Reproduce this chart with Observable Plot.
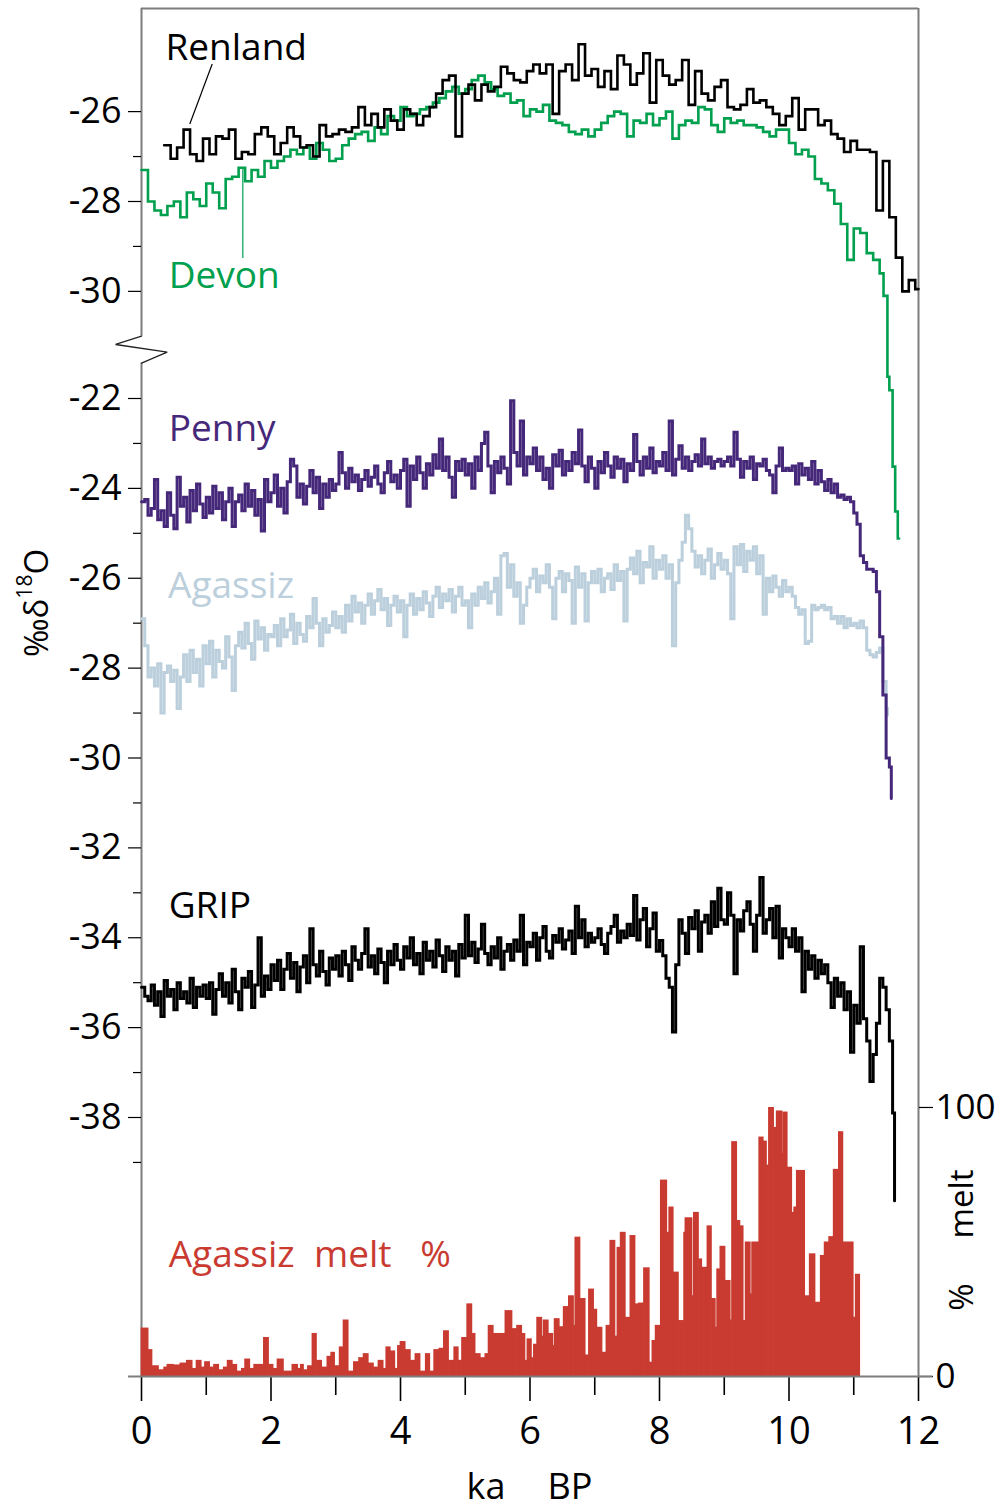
<!DOCTYPE html>
<html><head><meta charset="utf-8">
<script src="https://cdn.jsdelivr.net/npm/d3@7"></script>
<script src="https://cdn.jsdelivr.net/npm/@observablehq/plot@0.6"></script>
<style>
body{margin:0;background:#fff;}
#chart svg{display:block;}
</style></head><body><div id="chart"></div>
<script>
// ---------------- DATA (ka BP, per mil δ18O, melt %) ----------------
const renlandStart = 0.35, renlandStep = 0.1, renlandEnd = 12.0;
const renland = [
 -26.75,-27.05,-26.8,-26.4,-26.95,-27.1,-26.6,-26.95,-26.55,-26.6,-26.4,-27.05,-26.9,-26.95,-26.5,-26.35,-26.55,-26.95,-26.7,-26.35,
 -26.55,-26.8,-26.75,-27.0,-26.3,-26.55,-26.5,-26.4,-26.45,-26.35,-25.9,-26.3,-26.05,-26.35,-25.95,-26.2,-26.4,-25.95,-26.05,-26.3,
 -26.1,-25.9,-25.6,-25.3,-25.2,-26.55,-25.6,-25.4,-25.75,-25.4,-25.55,-25.45,-25.0,-25.15,-25.3,-25.35,-25.1,-24.95,-25.15,-24.95,
 -26.05,-25.1,-24.95,-25.3,-24.5,-25.2,-25.05,-25.45,-25.1,-25.5,-24.75,-24.95,-25.4,-25.15,-24.7,-25.8,-24.85,-25.2,-25.4,-25.3,
 -24.85,-25.85,-25.1,-25.6,-25.75,-25.45,-25.3,-25.9,-25.95,-25.85,-25.5,-25.8,-25.75,-25.9,-26.05,-26.3,-26.1,-25.7,-26.4,-25.95,
 -25.95,-26.3,-26.2,-26.5,-26.6,-26.9,-26.65,-26.85,-26.85,-26.9,-28.2,-27.1,-28.35,-29.25,-30.0,-29.75,-29.95
];
const devonStart = 0.0, devonStep = 0.1;
const devon = [
 -27.3,-28.0,-28.2,-28.3,-28.1,-28.0,-28.35,-27.8,-27.95,-28.1,-27.6,-27.8,-28.15,-27.5,-27.45,-27.25,-27.55,-27.3,-27.45,-27.1,
 -27.25,-27.1,-27.0,-26.85,-26.95,-26.8,-27.05,-26.7,-26.85,-27.1,-27.05,-26.75,-26.6,-26.5,-26.45,-26.65,-26.35,-26.5,-26.1,-26.2,
 -25.9,-26.1,-26.05,-25.95,-25.9,-25.8,-25.7,-25.55,-25.45,-25.6,-25.5,-25.3,-25.2,-25.35,-25.5,-25.65,-25.6,-25.8,-25.75,-26.1,
 -25.95,-26.0,-25.85,-26.2,-26.25,-26.3,-26.45,-26.5,-26.4,-26.55,-26.4,-26.25,-26.1,-26.0,-26.05,-26.55,-26.2,-26.25,-26.05,-26.3,
 -26.15,-26.0,-26.6,-26.3,-26.2,-26.25,-25.9,-25.95,-26.3,-26.45,-26.15,-26.25,-26.2,-26.3,-26.3,-26.35,-26.45,-26.55,-26.4,-26.4,
 -26.7,-26.95,-26.85,-27.0,-27.5,-27.6,-27.75,-28.05,-28.5,-29.3,-28.6,-28.7,-29.15,-29.3,-29.6
];
const devonTailT = [11.46, 11.52, 11.55, 11.60, 11.64, 11.68, 11.70];
const devonTailV = [-30.1, -31.9, -32.2, -33.9, -34.9, -35.5, -35.5];

const pennyStart = 0.0, pennyStep = 0.05;
const penny = [
 -24.3,-24.25,-24.6,-24.45,-23.8,-24.7,-24.5,-24.85,-24.1,-24.6,-24.9,-23.75,-24.4,-24.2,-24.75,-24.05,-24.5,-23.9,-24.35,-24.65,
 -24.2,-24.55,-23.95,-24.45,-24.1,-24.7,-24.3,-24.0,-24.85,-24.3,-24.15,-24.5,-23.9,-24.4,-24.05,-24.6,-24.25,-24.95,-23.8,-24.3,
 -24.1,-23.7,-24.4,-24.0,-24.55,-23.85,-23.35,-23.5,-24.2,-23.9,-24.35,-23.95,-23.6,-24.1,-23.75,-24.45,-23.9,-24.2,-23.8,-24.05,
 -23.9,-23.2,-23.65,-24.0,-23.55,-23.85,-23.7,-24.05,-23.8,-23.6,-23.95,-23.75,-23.5,-23.9,-24.1,-23.65,-23.4,-23.85,-23.7,-24.0,
 -23.6,-23.35,-24.4,-23.5,-23.8,-23.3,-23.65,-24.0,-23.45,-23.7,-23.25,-23.55,-22.9,-23.6,-23.3,-23.75,-24.2,-23.4,-23.6,-23.35,
 -23.7,-23.45,-24.0,-23.3,-23.6,-23.0,-22.75,-23.5,-24.1,-23.4,-23.65,-23.3,-23.55,-23.9,-22.05,-23.2,-23.5,-22.5,-23.7,-23.3,
 -23.45,-23.1,-23.6,-23.3,-23.8,-23.55,-24.0,-23.25,-23.5,-23.15,-23.7,-23.4,-23.6,-23.2,-23.45,-22.7,-23.5,-23.85,-23.3,-23.55,
 -24.0,-23.4,-23.65,-23.2,-23.5,-23.75,-23.3,-23.55,-23.35,-23.85,-23.45,-23.6,-22.8,-23.4,-23.7,-23.3,-23.55,-23.1,-23.65,-23.4,
 -23.5,-23.2,-23.6,-22.5,-23.7,-23.35,-23.05,-23.55,-23.3,-23.6,-23.4,-23.25,-23.5,-22.9,-23.45,-23.3,-23.55,-23.4,-23.35,-23.5,
 -23.4,-23.3,-23.5,-22.75,-23.35,-23.75,-23.4,-23.55,-23.3,-23.8,-23.45,-23.5,-23.35,-23.6,-23.7,-24.1,-23.5,-23.1,-23.6,-23.55,
 -23.6,-23.5,-23.9,-23.45,-23.7,-23.55,-23.8,-23.4,-23.9,-23.6,-23.85,-24.05,-23.8,-24.1,-23.9,-24.2,-24.15,-24.25,-24.2,-24.3,
 -24.55,-24.8,-25.5,-25.65,-25.8,-25.8,-25.85,-26.3,-27.3,-28.6,-30.0,-30.2
];
const pennyEnd = [11.58, -30.9];

const agassizStart = 0.0, agassizStep = 0.05;
const agassiz = [
 -26.9,-27.5,-28.2,-28.0,-28.4,-27.9,-29.0,-28.1,-27.95,-28.3,-28.05,-28.9,-28.2,-27.7,-28.3,-27.6,-28.1,-27.8,-28.4,-27.5,
 -27.9,-27.4,-28.2,-27.6,-27.85,-28.0,-27.3,-27.75,-28.5,-27.5,-27.2,-27.55,-27.0,-27.45,-27.8,-26.95,-27.35,-27.1,-27.6,-27.25,
 -27.3,-27.05,-27.5,-26.9,-27.3,-27.15,-26.8,-27.45,-27.0,-27.25,-27.4,-26.85,-27.1,-26.45,-27.0,-27.5,-26.9,-27.2,-27.05,-26.75,
 -27.1,-26.85,-27.2,-26.6,-26.95,-26.4,-26.75,-26.55,-27.0,-26.6,-26.35,-26.8,-26.5,-26.25,-26.7,-26.45,-27.05,-26.6,-26.4,-26.75,
 -26.5,-27.3,-26.6,-26.35,-26.8,-26.45,-26.7,-26.3,-26.55,-26.85,-26.4,-26.2,-26.65,-26.35,-26.5,-26.25,-26.75,-26.4,-26.2,-26.6,
 -26.5,-27.1,-26.35,-26.6,-26.2,-26.45,-26.1,-26.55,-26.3,-26.0,-26.8,-25.5,-25.45,-26.2,-25.7,-26.4,-26.1,-27.0,-26.6,-26.2,
 -26.0,-25.8,-26.3,-25.95,-26.1,-25.7,-26.2,-26.9,-26.0,-25.85,-26.3,-25.9,-26.05,-27.0,-25.75,-26.2,-25.9,-26.95,-26.1,-25.85,
 -26.1,-25.8,-26.3,-26.0,-25.9,-26.25,-25.7,-26.05,-25.85,-26.95,-25.8,-25.55,-25.9,-25.4,-26.1,-25.65,-25.75,-25.3,-26.0,-25.6,
 -25.8,-25.5,-26.0,-25.7,-27.5,-26.1,-25.6,-25.2,-24.6,-24.9,-25.4,-25.75,-25.5,-25.9,-25.6,-25.35,-26.0,-25.7,-25.45,-25.8,
 -25.6,-25.9,-26.9,-25.3,-25.7,-25.25,-25.85,-25.4,-25.6,-25.3,-25.9,-25.5,-26.8,-26.0,-26.3,-25.95,-26.2,-26.4,-26.05,-26.3,
 -26.2,-26.4,-26.65,-26.8,-26.7,-27.45,-27.4,-26.6,-26.7,-26.65,-26.6,-26.7,-26.65,-26.9,-26.85,-27.0,-26.85,-27.1,-26.9,-27.05,
 -27.0,-27.1,-26.95,-27.1,-27.6,-27.7,-27.75,-27.65,-27.55,-28.3,-28.9
];
const agassizEnd = [11.52, -29.05];

const gripStart = 0.0, gripStep = 0.05;
const grip = [
 -35.1,-35.3,-35.4,-35.05,-35.5,-35.2,-35.75,-34.95,-35.3,-35.15,-35.6,-35.0,-35.35,-35.2,-35.45,-34.9,-35.55,-35.1,-35.3,-35.05,
 -35.35,-35.0,-35.7,-35.15,-34.8,-35.3,-35.0,-35.45,-34.7,-35.2,-35.6,-34.9,-35.1,-34.75,-35.55,-35.05,-34.0,-35.3,-34.85,-35.15,
 -34.6,-34.95,-34.5,-35.15,-34.7,-34.35,-34.9,-34.55,-35.2,-34.65,-34.4,-35.0,-33.8,-34.6,-34.85,-34.3,-34.75,-35.05,-34.45,-34.7,
 -34.4,-34.85,-34.3,-34.6,-34.95,-34.2,-34.5,-34.7,-34.35,-33.8,-34.65,-34.4,-34.8,-34.25,-34.55,-35.0,-34.3,-34.6,-34.15,-34.5,
 -34.7,-34.2,-34.45,-34.0,-34.6,-34.35,-34.8,-34.1,-34.5,-34.3,-34.65,-34.05,-34.4,-34.75,-34.2,-34.5,-34.3,-34.85,-34.15,-34.45,
 -33.5,-34.4,-34.1,-34.55,-34.25,-33.7,-34.35,-34.6,-34.2,-34.45,-34.0,-34.7,-34.3,-34.15,-34.5,-34.05,-34.3,-33.5,-34.6,-34.1,
 -34.2,-33.9,-34.5,-34.0,-33.75,-34.3,-34.45,-33.95,-34.1,-33.8,-34.25,-34.05,-33.85,-34.35,-33.3,-34.0,-33.6,-34.2,-33.9,-34.1,
 -34.0,-33.8,-34.15,-34.35,-33.9,-33.75,-33.5,-34.1,-33.85,-34.0,-33.7,-33.95,-33.06,-34.05,-33.6,-33.35,-34.2,-33.8,-33.45,-34.3,
 -34.06,-34.4,-34.9,-35.1,-36.1,-34.6,-33.6,-33.9,-34.35,-33.55,-33.8,-33.4,-34.3,-33.65,-33.5,-33.9,-33.2,-33.75,-32.9,-33.6,
 -33.7,-33.0,-33.5,-34.8,-33.6,-33.85,-33.4,-33.2,-33.7,-34.3,-33.5,-32.66,-33.9,-33.6,-33.35,-34.0,-33.3,-34.45,-33.8,-34.0,
 -34.2,-33.8,-34.3,-34.0,-35.2,-34.3,-34.7,-34.4,-34.9,-34.5,-34.8,-34.6,-35.0,-35.55,-34.9,-35.3,-35.0,-35.6,-35.2,-36.55,
 -35.5,-35.9,-34.2,-35.8,-36.3,-37.2,-36.6,-35.9,-34.9,-35.1,-35.6,-36.3,-37.9
];
const gripEnd = [11.63, -39.85];

const meltT = [
 0.00,0.11,0.17,0.27,0.35,0.40,0.50,0.60,0.70,0.79,0.85,0.93,0.98,1.06,1.12,1.20,1.27,1.33,1.41,1.48,
 1.55,1.60,1.68,1.74,1.89,1.97,2.04,2.10,2.20,2.33,2.42,2.46,2.51,2.57,2.64,2.71,2.79,2.87,2.93,2.99,
 3.06,3.12,3.20,3.28,3.36,3.43,3.51,3.59,3.66,3.74,3.78,3.85,3.92,3.96,4.00,4.08,4.16,4.23,4.31,4.39,
 4.46,4.52,4.60,4.67,4.75,4.83,4.90,4.95,5.03,5.11,5.16,5.24,5.31,5.36,5.44,5.54,5.62,5.73,5.80,5.88,
 5.93,5.96,6.03,6.06,6.11,6.19,6.21,6.29,6.36,6.38,6.46,6.52,6.60,6.68,6.70,6.78,6.86,6.91,6.99,7.04,
 7.12,7.18,7.24,7.32,7.35,7.40,7.48,7.55,7.63,7.68,7.76,7.85,7.89,7.94,8.02,8.12,8.15,8.22,8.30,8.38,
 8.40,8.51,8.53,8.61,8.66,8.74,8.81,8.87,8.89,8.94,9.02,9.10,9.12,9.20,9.25,9.30,9.33,9.41,9.43,9.54,
 9.61,9.66,9.69,9.77,9.81,9.90,9.91,9.98,10.05,10.08,10.12,10.25,10.32,10.41,10.49,10.55,10.62,10.69,10.77,10.84,
 11.00,11.03
];
const meltV = [
 18,10,4,2.5,3.5,4.5,4.3,5,6,3,6,3.5,5.5,3.5,4.5,2.5,3.5,6,4.5,2,
 3,6.5,3,4.5,14.5,4.5,3,6.5,2,4.5,3,4.5,2.5,4,16,6,3.5,7.5,9,4,
 11,21,2,5.5,7,8.5,5,3.5,6,3,11,9.5,3,11.5,13,10,6,8.5,2,8.5,
 2,10,10.5,17,6,11,6,14.5,27,16,8.5,7,8.5,19,16,16,24.5,17.8,19,16,
 6,14,7,12,22,15,21,16,11.5,21.5,18.5,26,30,19,51.8,29,8,32.5,25,18.3,
 9,19,50.6,15,48,53.6,22,52.4,27,27.3,40.4,5.3,13.4,19,73,53.6,63,38.8,20.8,53.6,
 59,30,61,43.7,40.6,56,29,18.3,40,48.4,35.7,21,87.3,58,56,20.8,50,30.7,50,89,
 87.5,78.6,100,92.6,98.7,83,98.3,77.8,61,63,76.6,30,45.6,27.6,45,50,52,77,91,50,
 22,38
];
const meltEnd = 11.10;

// tick values
const xMajor = [0, 2, 4, 6, 8, 10, 12];
const xMinor = [1, 3, 5, 7, 9, 11];
const upperMajor = [-26, -28, -30];
const upperMinor = [-27, -29];
const lowerMajor = [-22, -24, -26, -28, -30, -32, -34, -36, -38];
const lowerMinor = [-23, -25, -27, -29, -31, -33, -35, -37, -39];
const meltTicks = [0, 100];

// ---------------- layout of the stacked y coordinate ----------------
const UPPER_OFFSET = 10.384;           // upper panel (Renland, Devon) shifted onto common axis
const MELT_BASE = -43.7636, MELT_SCALE = 0.059866;
const Y_DOMAIN = [-43.7636, -13.3213];
const BREAK_TOP = -20.614, BREAK_BOTTOM = -21.214;
const upperU = v => v + UPPER_OFFSET;
const meltU = m => MELT_BASE + m * MELT_SCALE;

const GREEN = "#00a04e", PURPLE = "#46287a", LIGHT = "#bccfdc", RED = "#c93b31", GREY = "#7d7d7d";

function grid(start, step, vals, endT, endV) {
  const out = vals.map((v, i) => ({t: +(start + i * step).toFixed(3), v}));
  if (endT != null) out.push({t: endT, v: endV});
  return out;
}
const renlandData = grid(renlandStart, renlandStep, renland, renlandEnd, renland[renland.length - 1]);
const devonData = grid(devonStart, devonStep, devon).concat(devonTailT.map((t, i) => ({t, v: devonTailV[i]})));
const pennyData = grid(pennyStart, pennyStep, penny, pennyEnd[0], pennyEnd[1]);
const agassizData = grid(agassizStart, agassizStep, agassiz, agassizEnd[0], agassizEnd[1]);
const gripData = grid(gripStart, gripStep, grip, gripEnd[0], gripEnd[1]);
const meltData = meltT.map((t, i) => ({t0: t, t1: i + 1 < meltT.length ? meltT[i + 1] : meltEnd, m: meltV[i]}));

const breakPts = [
  {t: 0, u: BREAK_TOP}, {t: -0.40, u: -20.798}, {t: 0.397, u: -20.970}, {t: 0, u: BREAK_BOTTOM}
];
const labels = [
  {t: 0.37, u: upperU(-24.843), text: "Renland", color: "#000"},
  {t: 0.42, u: upperU(-29.917), text: "Devon", color: GREEN},
  {t: 0.42, u: -22.935, text: "Penny", color: PURPLE},
  {t: 0.41, u: -26.45, text: "Agassiz", color: LIGHT},
  {t: 0.42, u: -33.56, text: "GRIP", color: "#000"},
  {t: 0.42, u: meltU(40.8), text: "Agassiz\u00A0\u00A0melt\u00A0\u00A0\u00A0%", color: RED}
];

const stepLine = (data, yf, stroke, w) => Plot.line(data, {x: "t", y: yf, curve: "step-after", stroke, strokeWidth: w, strokeLinejoin: "miter", strokeMiterlimit: 2});

const chart = Plot.plot({
  width: 1004, height: 1510,
  marginLeft: 141, marginRight: 86, marginTop: 8, marginBottom: 134,
  style: {fontFamily: "'Open Sans', sans-serif", background: "#fff"},
  x: {domain: [0, 12], axis: null},
  y: {domain: Y_DOMAIN, axis: null},
  marks: [
    // frame
    Plot.ruleY([Y_DOMAIN[1]], {x1: 0, x2: 12, stroke: GREY, strokeWidth: 2}),
    Plot.ruleX([12], {y1: Y_DOMAIN[0], y2: Y_DOMAIN[1], stroke: GREY, strokeWidth: 2}),
    Plot.ruleX([0], {y1: BREAK_TOP, y2: Y_DOMAIN[1], stroke: GREY, strokeWidth: 2}),
    Plot.ruleX([0], {y1: Y_DOMAIN[0], y2: BREAK_BOTTOM, stroke: GREY, strokeWidth: 2}),
    Plot.line(breakPts, {x: "t", y: "u", stroke: "#222", strokeWidth: 1.3, strokeLinejoin: "miter"}),
    // axes
    Plot.axisY({ticks: upperMajor.map(upperU), anchor: "left", tickSize: 13, tickPadding: 7, fontSize: 36, label: null, color: "#000", strokeWidth: 1.2, tickFormat: u => String(Math.round(u - UPPER_OFFSET))}),
    Plot.axisY({ticks: upperMinor.map(upperU), anchor: "left", tickSize: 8, label: null, color: "#000", strokeWidth: 1.2, tickFormat: () => ""}),
    Plot.axisY({ticks: lowerMajor, anchor: "left", tickSize: 13, tickPadding: 7, fontSize: 36, label: null, color: "#000", strokeWidth: 1.2, tickFormat: u => String(Math.round(u))}),
    Plot.axisY({ticks: lowerMinor, anchor: "left", tickSize: 8, label: null, color: "#000", strokeWidth: 1.2, tickFormat: () => ""}),
    Plot.axisY({ticks: meltTicks.map(meltU), anchor: "right", tickSize: 14, tickPadding: 3, fontSize: 35, label: null, color: "#000", strokeWidth: 1.2, tickFormat: u => String(Math.round((u - MELT_BASE) / MELT_SCALE))}),
    Plot.axisX({ticks: xMajor, anchor: "bottom", tickSize: 25, tickPadding: 16, fontSize: 38, label: null, color: "#000", strokeWidth: 1.6}),
    Plot.axisX({ticks: xMinor, anchor: "bottom", tickSize: 19, label: null, color: "#000", strokeWidth: 1.6, tickFormat: () => ""}),
    // melt bars
    Plot.rect(meltData, {x1: "t0", x2: "t1", y1: () => meltU(0), y2: d => meltU(d.m), fill: RED, insetLeft: -0.35, insetRight: -0.35}),
    Plot.ruleY([Y_DOMAIN[0]], {x1: -0.2, x2: 12.22, stroke: GREY, strokeWidth: 2}),
    // series
    stepLine(agassizData, "v", LIGHT, 3),
    stepLine(pennyData, "v", PURPLE, 3),
    stepLine(gripData, "v", "#000", 3),
    stepLine(devonData, d => upperU(d.v), GREEN, 2.6),
    stepLine(renlandData, d => upperU(d.v), "#000", 2.6),
    // leader lines
    Plot.link([{x1: 1.092, y1: upperU(-24.94), x2: 0.746, y2: upperU(-26.274)}], {x1: "x1", y1: "y1", x2: "x2", y2: "y2", stroke: "#000", strokeWidth: 1.2}),
    Plot.link([{x1: 1.565, y1: upperU(-27.276), x2: 1.565, y2: upperU(-29.256)}], {x1: "x1", y1: "y1", x2: "x2", y2: "y2", stroke: GREEN, strokeWidth: 1.2}),
    // series labels
    Plot.text(labels, {x: "t", y: "u", text: "text", fill: "color", textAnchor: "start", lineAnchor: "bottom", fontSize: 37})
  ]
});

const svg = d3.select(chart);
// y axis title ‰δ18O (rotated)
const yt = svg.append("text")
  .attr("transform", "translate(48,603) rotate(-90)")
  .attr("text-anchor", "middle")
  .attr("font-size", 33)
  .attr("fill", "#000");
yt.append("tspan").text("\u2030\u03B4");
yt.append("tspan").attr("font-size", 21).attr("dy", "-0.75em").text("18");
yt.append("tspan").attr("dy", "0.48em").text("O");
// right title "% melt"
svg.append("text").attr("transform", "translate(973,1204) rotate(-90)").attr("text-anchor", "middle")
  .attr("font-size", 33).attr("fill", "#000").text("melt");
svg.append("text").attr("transform", "translate(973,1297) rotate(-90)").attr("text-anchor", "middle")
  .attr("font-size", 33).attr("fill", "#000").text("%");
// x axis title
svg.append("text").attr("x", 486).attr("y", 1499).attr("text-anchor", "middle")
  .attr("font-size", 36).attr("fill", "#000").text("ka");
svg.append("text").attr("x", 570).attr("y", 1499).attr("text-anchor", "middle")
  .attr("font-size", 36).attr("fill", "#000").text("BP");

document.getElementById("chart").appendChild(chart);
</script>
</body></html>
